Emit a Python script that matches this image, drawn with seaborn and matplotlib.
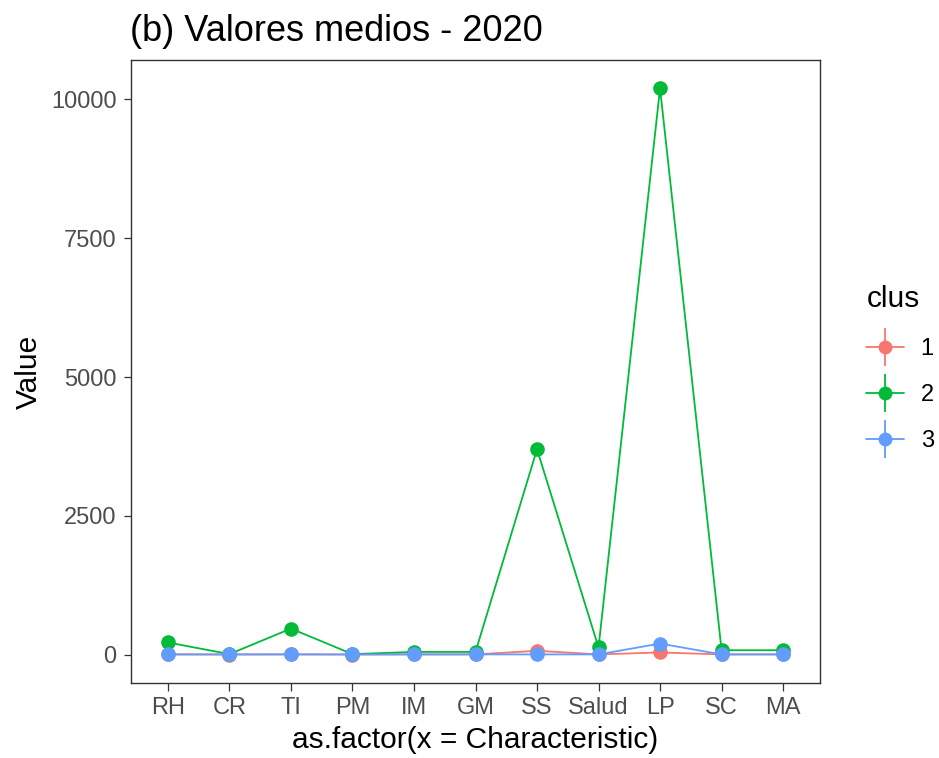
import pandas as pd
import matplotlib.pyplot as plt
import seaborn as sns
from matplotlib.lines import Line2D

# characteristics on the x axis
characteristics = ["RH", "CR", "TI", "PM", "IM", "GM", "SS", "Salud", "LP", "SC", "MA"]

# mean values per cluster
clus1 = [5, 3, 5, 3, 5, 5, 70, 5, 40, 5, 5]
clus2 = [220, 10, 470, 10, 50, 50, 3700, 130, 10200, 80, 80]
clus3 = [5, 5, 5, 5, 5, 5, 5, 5, 200, 5, 5]

colors = {"1": "#F8766D", "2": "#00BA38", "3": "#619CFF"}

df = pd.concat([
    pd.DataFrame({"Characteristic": characteristics, "Value": clus1, "clus": "1"}),
    pd.DataFrame({"Characteristic": characteristics, "Value": clus2, "clus": "2"}),
    pd.DataFrame({"Characteristic": characteristics, "Value": clus3, "clus": "3"}),
])
df["x"] = df["Characteristic"].map({c: i for i, c in enumerate(characteristics)})

sns.set_style("white")
plt.rcParams["font.family"] = ["Liberation Sans", "DejaVu Sans"]
plt.rcParams["text.color"] = "black"

fig = plt.figure(figsize=(9.39, 7.58), dpi=100)
ax = fig.add_axes([131 / 939, 1 - 683 / 758, 689 / 939, 623 / 758])

sns.lineplot(data=df, x="x", y="Value", hue="clus", palette=colors,
             marker="o", markersize=10.5, markeredgewidth=0, linewidth=1.3,
             legend=False, ax=ax, sort=False)

ax.set_xlim(-0.6, 10.6)
ax.set_ylim(-510, 10710)
ax.set_xticks(range(len(characteristics)))
ax.set_xticklabels(characteristics)
ax.set_yticks([0, 2500, 5000, 7500, 10000])
ax.tick_params(axis="both", labelsize=17, labelcolor="#4D4D4D", length=5.4,
               width=0.9, color="#333333", direction="out", bottom=True, left=True, pad=5)
for s in ax.spines.values():
    s.set_color("#333333")
    s.set_linewidth(1.0)

ax.set_xlabel("as.factor(x = Characteristic)", fontsize=21.5, color="black", labelpad=5)
ax.set_ylabel("Value", fontsize=21.5, color="black", labelpad=6)
ax.set_title("(b) Valores medios - 2020", fontsize=26, loc="left", pad=14, x=-0.002,
             color="black")

handles = []
for k in ["1", "2", "3"]:
    h1 = Line2D([], [], color=colors[k], marker="o", markersize=10, markeredgewidth=0, linewidth=1.3)
    h2 = Line2D([], [], color=colors[k], marker="|", markersize=27, markeredgewidth=1.3, linestyle="none")
    handles.append((h1, h2))
leg = fig.legend(handles, ["1", "2", "3"], title="clus", loc="upper left",
                 bbox_to_anchor=(857 / 939, 1 - 276 / 758), frameon=False,
                 fontsize=17, title_fontsize=21.5, handlelength=1.6, handletextpad=0.7,
                 labelspacing=1.03, alignment="left", borderaxespad=0)

fig.savefig("out.png", dpi=100)
